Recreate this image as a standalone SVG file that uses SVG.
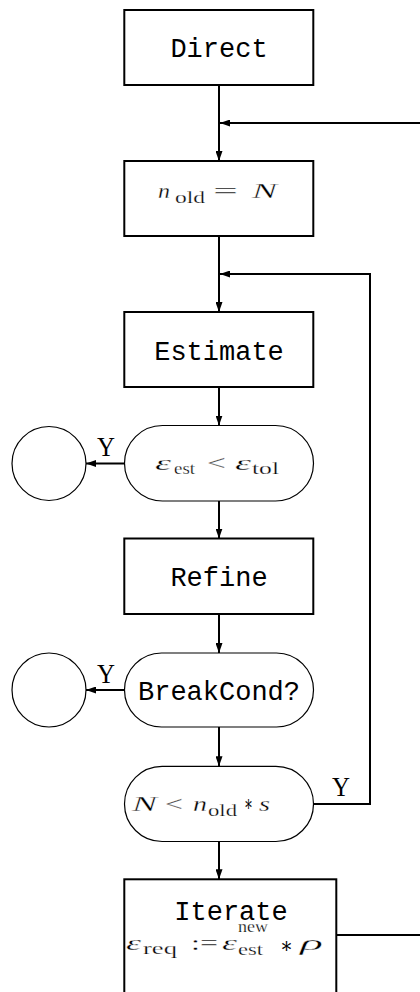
<svg xmlns="http://www.w3.org/2000/svg" width="420" height="992" viewBox="0 0 420 992">
<style>
.box{fill:#fff;stroke:#000;stroke-width:2}
.stad{fill:#fff;stroke:#000;stroke-width:1.2}
.circ{fill:#fff;stroke:#000;stroke-width:1.2}
.tt{font-family:"Liberation Mono",monospace;font-size:27px;fill:#000;text-anchor:middle}
.m{font-family:"Liberation Serif",serif;font-size:22px;fill:#000;stroke:#fff;stroke-width:0.3px}
.mi{font-family:"Liberation Serif",serif;font-size:22px;font-style:italic;fill:#000;stroke:#fff;stroke-width:0.3px}
.s{font-family:"Liberation Serif",serif;font-size:17px;fill:#000;stroke:#fff;stroke-width:0.25px}
.ast{font-family:"DejaVu Serif","Liberation Serif",serif;font-size:22px;fill:#000}
.y{font-family:"Liberation Serif",serif;font-size:27px;fill:#000}
.c{fill:none;stroke:#000;stroke-width:2}
</style>
<defs>
<marker id="ah" markerUnits="userSpaceOnUse" markerWidth="10" markerHeight="7" refX="10" refY="3.5" orient="auto">
<path d="M0,0 L10,3.5 L0,7 z" fill="#000"/>
</marker>
</defs>
<rect width="420" height="992" fill="#fff"/>
<g id="connectors">
<line class="c" x1="219" y1="85" x2="219" y2="161" marker-end="url(#ah)"/>
<line class="c" x1="420" y1="123" x2="220" y2="123" marker-end="url(#ah)"/>
<line class="c" x1="219" y1="236" x2="219" y2="312" marker-end="url(#ah)"/>
<polyline class="c" points="313,804 370,804 370,274 220,274" marker-end="url(#ah)"/>
<line class="c" x1="219" y1="387" x2="219" y2="425.5" marker-end="url(#ah)"/>
<line class="c" x1="124" y1="463.5" x2="86" y2="463.5" marker-end="url(#ah)"/>
<line class="c" x1="219" y1="501" x2="219" y2="538.5" marker-end="url(#ah)"/>
<line class="c" x1="219" y1="614" x2="219" y2="653" marker-end="url(#ah)"/>
<line class="c" x1="124" y1="690" x2="86" y2="690" marker-end="url(#ah)"/>
<line class="c" x1="219" y1="727" x2="219" y2="766.3" marker-end="url(#ah)"/>
<line class="c" x1="219" y1="841.5" x2="219" y2="879.3" marker-end="url(#ah)"/>
<line class="c" x1="336" y1="935" x2="420" y2="935"/>
<text class="y" x="97" y="456" textLength="18" lengthAdjust="spacingAndGlyphs">Y</text>
<text class="y" x="97" y="682.7" textLength="18" lengthAdjust="spacingAndGlyphs">Y</text>
<text class="y" x="332" y="795.7" textLength="18" lengthAdjust="spacingAndGlyphs">Y</text>
</g>
<g id="direct">
<rect class="box" x="124.3" y="10" width="189" height="75"/>
<text class="tt" x="219" y="56.7">Direct</text>
</g>
<g id="nold">
<rect class="box" x="124.3" y="161" width="189" height="75"/>
<text class="mi" x="158" y="198" textLength="12" lengthAdjust="spacingAndGlyphs">n</text>
<text class="s" x="175" y="203" textLength="30" lengthAdjust="spacingAndGlyphs">old</text>
<text class="m" x="213" y="198" textLength="25" lengthAdjust="spacingAndGlyphs">=</text>
<text class="mi" x="252" y="198" textLength="25" lengthAdjust="spacingAndGlyphs">N</text>
</g>
<g id="estimate">
<rect class="box" x="124.3" y="312" width="189" height="75"/>
<text class="tt" x="219" y="360">Estimate</text>
</g>
<g id="cond-tol">
<rect class="stad" x="124.5" y="425.5" width="189" height="75.5" rx="38" ry="38"/>
<text class="mi" x="155" y="469.5" textLength="16" lengthAdjust="spacingAndGlyphs">ε</text>
<text class="s" x="174" y="474" textLength="21" lengthAdjust="spacingAndGlyphs">est</text>
<text class="m" x="207" y="469.5" textLength="19" lengthAdjust="spacingAndGlyphs">&lt;</text>
<text class="mi" x="235" y="469.5" textLength="16" lengthAdjust="spacingAndGlyphs">ε</text>
<text class="s" x="252" y="474" textLength="27" lengthAdjust="spacingAndGlyphs">tol</text>
</g>
<g id="exit1">
<circle class="circ" cx="49" cy="463.5" r="37"/>
</g>
<g id="refine">
<rect class="box" x="124.3" y="538.5" width="189" height="75.5"/>
<text class="tt" x="219" y="585.7">Refine</text>
</g>
<g id="breakcond">
<rect class="stad" x="124.5" y="653" width="189" height="74" rx="37" ry="37"/>
<text class="tt" x="219" y="700">BreakCond?</text>
</g>
<g id="exit2">
<circle class="circ" cx="49" cy="690" r="37"/>
</g>
<g id="cond-n">
<rect class="stad" x="124.5" y="766.3" width="189" height="75.2" rx="37.6" ry="37.6"/>
<text class="mi" x="132" y="810.5" textLength="25" lengthAdjust="spacingAndGlyphs">N</text>
<text class="m" x="165" y="810.5" textLength="18" lengthAdjust="spacingAndGlyphs">&lt;</text>
<text class="mi" x="193" y="810.5" textLength="14" lengthAdjust="spacingAndGlyphs">n</text>
<text class="s" x="208" y="816" textLength="29" lengthAdjust="spacingAndGlyphs">old</text>
<text class="ast" x="244" y="811" textLength="9" lengthAdjust="spacingAndGlyphs">∗</text>
<text class="mi" x="259" y="810.5" textLength="11" lengthAdjust="spacingAndGlyphs">s</text>
</g>
<g id="iterate">
<rect class="box" x="124.3" y="879.3" width="212" height="130"/>
<text class="tt" x="231" y="920">Iterate</text>
<text class="mi" x="126" y="950" textLength="15" lengthAdjust="spacingAndGlyphs">ε</text>
<text class="s" x="143" y="954" textLength="34" lengthAdjust="spacingAndGlyphs">req</text>
<text class="m" x="191" y="950" textLength="27" lengthAdjust="spacingAndGlyphs">:=</text>
<text class="mi" x="222" y="950" textLength="15" lengthAdjust="spacingAndGlyphs">ε</text>
<text class="s" x="238" y="932" textLength="30" lengthAdjust="spacingAndGlyphs">new</text>
<text class="s" x="238" y="954.5" textLength="25" lengthAdjust="spacingAndGlyphs">est</text>
<text class="ast" x="280" y="953" textLength="13" lengthAdjust="spacingAndGlyphs">∗</text>
<text class="mi" x="300" y="950" textLength="23" lengthAdjust="spacingAndGlyphs">ρ</text>
</g>
</svg>
